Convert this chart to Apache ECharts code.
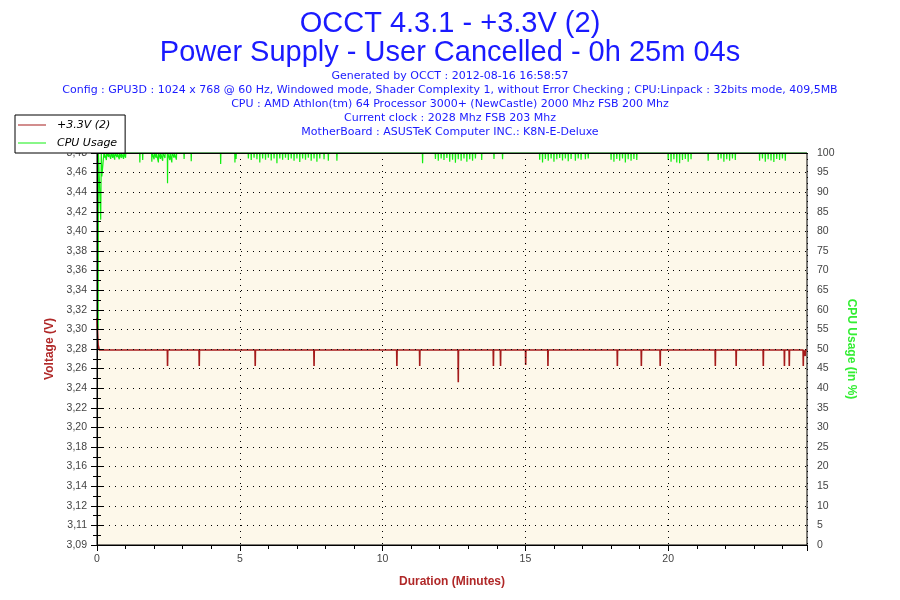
<!DOCTYPE html>
<html><head><meta charset="utf-8">
<script src="https://cdn.jsdelivr.net/npm/echarts@6/dist/echarts.min.js"></script>
<style>html,body{margin:0;padding:0;background:#fff}#c{width:900px;height:600px}</style>
</head><body><div id="c"></div>
<script>
const titleLines = ['OCCT 4.3.1 - +3.3V (2)', 'Power Supply - User Cancelled - 0h 25m 04s'];
const infoLines = [
  'Generated by OCCT : 2012-08-16 16:58:57',
  'Config : GPU3D : 1024 x 768 @ 60 Hz, Windowed mode, Shader Complexity 1, without Error Checking ; CPU:Linpack : 32bits mode, 409,5MB',
  'CPU : AMD Athlon(tm) 64 Processor 3000+ (NewCastle) 2000 Mhz FSB 200 Mhz',
  'Current clock : 2028 Mhz FSB 203 Mhz',
  'MotherBoard : ASUSTeK Computer INC.: K8N-E-Deluxe'
];
const seriesNames = ['+3.3V (2)', 'CPU Usage'];
const axisNames = ['Duration (Minutes)', 'Voltage (V)', 'CPU Usage (in %)'];

// Voltage (+3.3V) readings
const voltBaseline = 3.28;
const voltStartMinutes = [0, 0.04, 0.08];
const voltStartValues = [3.312, 3.285, 3.28];
const voltDipMinutes = [2.47, 3.58, 5.54, 7.60, 10.50, 11.30, 12.65, 13.88, 14.13, 15.01, 15.79, 18.22, 19.06, 19.72, 21.65, 22.38, 23.33, 24.07, 24.24, 24.73, 24.80];
const voltDipValues  = [3.264, 3.264, 3.264, 3.264, 3.264, 3.264, 3.248, 3.264, 3.264, 3.265, 3.264, 3.264, 3.264, 3.264, 3.264, 3.264, 3.264, 3.264, 3.264, 3.264, 3.274];
const endMinute = 24.86;

// CPU usage readings
const cpuBaseline = 100;
const cpuStartMinutes = [0.04, 0.05, 0.13, 0.15, 0.17];
const cpuStartValues = [55, 100, 83, 100, 94];
const cpuDipMinutes = [
  0.25, 0.33, 0.4, 0.48, 0.55, 0.62, 0.7, 0.78, 0.85, 0.93, 1.0,
  1.5, 1.6,
  1.92, 2.0, 2.07, 2.15, 2.22, 2.3, 2.38, 2.47, 2.55, 2.62, 2.7, 2.78,
  3.05, 3.3, 4.33, 4.83, 4.87,
  5.3, 5.4, 5.5, 5.6, 5.7, 5.8, 5.9, 6.0, 6.1, 6.2, 6.3, 6.4, 6.5, 6.6, 6.7, 6.8, 6.9, 7.0, 7.1, 7.2, 7.3, 7.4, 7.5, 7.6, 7.7, 7.8, 7.95, 8.1,
  8.4, 11.4,
  11.85, 11.95, 12.05, 12.15, 12.25, 12.35, 12.45, 12.55, 12.65, 12.75, 12.85, 12.95, 13.05, 13.15, 13.25,
  13.47, 13.9, 14.2,
  15.5, 15.6, 15.7, 15.8, 15.9, 16.0, 16.1, 16.2, 16.3, 16.4, 16.5, 16.6, 16.75, 16.85, 16.95, 17.1, 17.2,
  18.0, 18.1, 18.2, 18.3, 18.4, 18.5, 18.6, 18.7, 18.8, 18.9,
  20.0, 20.1, 20.2, 20.3, 20.4, 20.5, 20.6, 20.7, 20.8,
  21.4,
  21.75, 21.85, 21.95, 22.05, 22.15, 22.25, 22.35,
  23.2, 23.3, 23.4, 23.5, 23.6, 23.7, 23.8, 23.9, 24.0, 24.1
];
const cpuDipValues = [
  98.7, 98.2, 99.0, 98.5, 98.8, 98.3, 98.9, 98.4, 98.7, 98.5, 98.8,
  97.6, 98.2,
  97.8, 98.4, 98.8, 97.6, 98.5, 98.0, 98.7, 92.3, 98.2, 97.6, 98.8, 98.3,
  98.5, 97.9, 97.2, 97.6, 98.5,
  98.6, 98.2, 98.8, 98.4, 97.6, 98.6, 98.3, 98.8, 98.1, 98.6, 97.4, 98.6, 98.3, 98.8, 98.2, 98.6, 98.0, 98.6, 97.7, 98.6, 98.3, 98.8, 98.0, 98.6, 97.8, 98.6, 98.4, 98.0,
  98.0, 97.4,
  98.5, 98.0, 98.6, 98.2, 98.7, 97.8, 98.3, 97.5, 98.4, 98.0, 98.6, 97.8, 98.4, 98.0, 98.6,
  98.2, 98.5, 98.4,
  98.3, 97.6, 98.5, 98.0, 98.6, 97.8, 98.4, 98.7, 98.1, 98.6, 97.9, 98.5, 98.0, 98.6, 98.3, 98.4, 98.6,
  98.3, 97.8, 98.5, 98.0, 98.6, 97.6, 98.4, 98.0, 98.5, 98.2,
  98.2, 97.8, 98.4, 97.6, 97.4, 98.2, 98.5, 97.8, 98.4,
  98.0,
  98.2, 98.6, 97.8, 98.4, 98.0, 98.6, 98.2,
  98.0, 98.6, 97.8, 98.4, 98.1, 97.7, 98.5, 98.2, 98.6, 98.0
];

// Axis scales
const xMin = 0, xMax = endMinute, xStep = 5;
const vMin = 3.08574, vMax = 3.47634, vStep = 0.01953;
const cMin = 0, cMax = 100, cStep = 5;

function buildSeries(startT, startV, dipT, dipV, base, end) {
  const out = startT.map((t, i) => [t, startV[i]]);
  dipT.forEach((t, i) => { out.push([t - 0.008, base], [t, dipV[i]], [t + 0.008, base]); });
  out.push([end, base]);
  return out;
}
const voltData = buildSeries(voltStartMinutes, voltStartValues, voltDipMinutes, voltDipValues, voltBaseline, endMinute);
const cpuData = buildSeries(cpuStartMinutes, cpuStartValues, cpuDipMinutes, cpuDipValues, cpuBaseline, endMinute);

const RED = '#a51b1b', GREEN = '#11ee11', BLUE = '#1a1aff';
const labelFont = { fontFamily: 'Liberation Sans', fontSize: 10.5, color: '#444' };

const titles = [
  { text: titleLines.join('\n'), left: 'center', top: 9, padding: 0,
    textStyle: { fontFamily: 'Liberation Sans', fontSize: 29, fontWeight: 'normal', color: BLUE, lineHeight: 29 } }
].concat(infoLines.map((line, i) => ({
  text: line, left: 'center', top: 70 + i * 13.8, padding: 0,
  textStyle: { fontFamily: 'DejaVu Sans', fontSize: 11, fontWeight: 'normal', color: BLUE, lineHeight: 13 }
})));

const chart = echarts.init(document.getElementById('c'), null, { renderer: 'canvas' });
chart.setOption({
  animation: false,
  backgroundColor: '#fff',
  title: titles,
  legend: {
    orient: 'vertical', left: 15, top: 115, padding: [3, 8, 3, 3], itemGap: 4,
    backgroundColor: '#fff', borderColor: '#000', borderWidth: 1, borderRadius: 0,
    itemWidth: 28, itemHeight: 1, icon: 'rect',
    textStyle: { fontFamily: 'DejaVu Sans', fontSize: 11, fontStyle: 'italic', color: '#000', lineHeight: 14, padding: [0, 0, 0, 6] },
    data: seriesNames, z: 20
  },
  grid: { left: 97, right: 93, top: 153, bottom: 55, show: true, backgroundColor: '#fdf8ea', borderColor: '#000', borderWidth: 1 },
  xAxis: [
    { type: 'value', min: xMin, max: xMax, interval: xStep, z: 10,
      name: axisNames[0], nameLocation: 'middle', nameGap: 31,
      nameTextStyle: { fontFamily: 'Liberation Sans', fontSize: 12, fontWeight: 'bold', color: '#b02828' },
      axisLine: { lineStyle: { color: '#000', width: 1 } },
      axisTick: { length: 6, lineStyle: { color: '#000' } },
      minorTick: { show: true, splitNumber: 5, length: 4, lineStyle: { color: '#000' } },
      axisLabel: Object.assign({ margin: 9, showMaxLabel: false }, labelFont),
      splitLine: { show: true, lineStyle: { color: '#000', type: [1, 5], width: 1 } } },
    { type: 'value', min: xMin, max: xMax, position: 'top', z: 10,
      axisLine: { lineStyle: { color: '#000', width: 1 } },
      axisTick: { show: false }, axisLabel: { show: false }, splitLine: { show: false } }
  ],
  yAxis: [
    { type: 'value', min: vMin, max: vMax, interval: vStep, position: 'left', z: 10,
      name: axisNames[1], nameLocation: 'middle', nameGap: 35, nameRotate: 90,
      nameTextStyle: { fontFamily: 'Liberation Sans', fontSize: 12, fontWeight: 'bold', color: '#b02828' },
      axisLine: { show: true, lineStyle: { color: '#000', width: 1 } },
      axisTick: { length: 6, lineStyle: { color: '#000' } },
      minorTick: { show: true, splitNumber: 2, length: 4, lineStyle: { color: '#000' } },
      axisLabel: Object.assign({ margin: 10, formatter: v => v.toFixed(2).replace('.', ',') }, labelFont),
      splitLine: { show: true, lineStyle: { color: '#000', type: [1, 5], width: 1 } } },
    { type: 'value', min: cMin, max: cMax, interval: cStep, position: 'right', z: 10,
      name: axisNames[2], nameLocation: 'middle', nameGap: 31, nameRotate: -90,
      nameTextStyle: { fontFamily: 'Liberation Sans', fontSize: 12, fontWeight: 'bold', color: '#33ee33' },
      axisLine: { show: true, lineStyle: { color: '#000', width: 1 } },
      axisTick: { length: 6, lineStyle: { color: '#000' } },
      minorTick: { show: true, splitNumber: 2, length: 4, lineStyle: { color: '#000' } },
      axisLabel: Object.assign({ margin: 10 }, labelFont),
      splitLine: { show: false } }
  ],
  series: [
    { name: seriesNames[0], type: 'line', xAxisIndex: 0, yAxisIndex: 0, data: voltData,
      showSymbol: false, symbol: 'none', color: RED, lineStyle: { color: RED, width: 1.6 }, z: 3 },
    { name: seriesNames[1], type: 'line', xAxisIndex: 0, yAxisIndex: 1, data: cpuData,
      showSymbol: false, symbol: 'none', color: GREEN, lineStyle: { color: GREEN, width: 1.2 }, z: 2 }
  ]
});
</script></body></html>
